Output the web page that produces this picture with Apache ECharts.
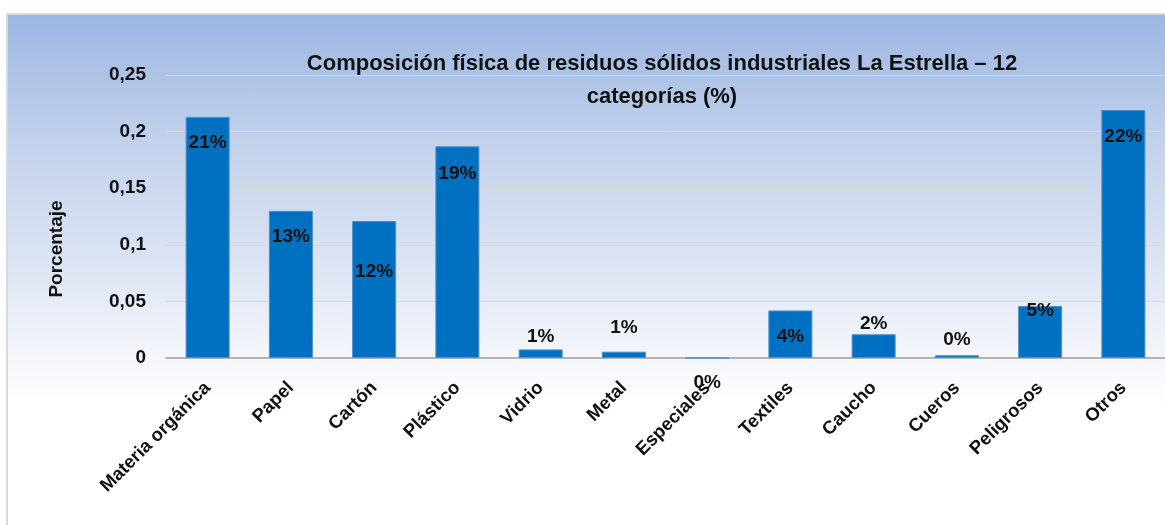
<!DOCTYPE html>
<html>
<head>
<meta charset="utf-8">
<script src="https://cdn.jsdelivr.net/npm/echarts@6/dist/echarts.min.js"></script>
<style>
  html, body { margin: 0; padding: 0; background: #ffffff; }
  #frame {
    position: absolute; left: 6px; top: 13px; width: 1170px; height: 530px;
    border: 2px solid #d9d9d9; box-sizing: border-box;
    background: linear-gradient(to bottom, #9db6e2 0px, #c3d2ec 130px, #dfe6f4 260px, #f4f6fb 340px, #ffffff 390px);
  }
  #chart { position: absolute; left: 0; top: 0; width: 1165px; height: 525px; }
</style>
</head>
<body>
<div id="frame"></div>
<div id="chart"></div>
<script>
// Composición física de residuos sólidos industriales (fracción por categoría)
const categories = ['Materia orgánica', 'Papel', 'Cartón', 'Plástico', 'Vidrio', 'Metal',
  'Especiales', 'Textiles', 'Caucho', 'Cueros', 'Peligrosos', 'Otros'];
const fractions = [0.213, 0.130, 0.121, 0.187, 0.0076, 0.0056, 0, 0.042, 0.021, 0.0024, 0.046, 0.219];
const yTicks = [0, 0.05, 0.1, 0.15, 0.2, 0.25];

// vertical placement of each value label, measured from the top of its bar
const labelDy = [26, 26, 51, 27, -13, -24, 25, 26, -10, -16, 5, 27];

const FONT = '"Liberation Sans Narrow", "Arial Narrow", "Liberation Sans", Arial, sans-serif';
const fmtTick = v => String(v).replace('.', ',');

const chart = echarts.init(document.getElementById('chart'), null, { renderer: 'canvas' });
chart.setOption({
  backgroundColor: 'transparent',
  animation: false,
  title: {
    text: 'Composición física de residuos sólidos industriales La Estrella – 12\ncategorías (%)',
    left: 657, top: 42, textAlign: 'center',
    textStyle: { fontFamily: FONT, fontWeight: 'bold', fontSize: 22, color: '#111', lineHeight: 33 }
  },
  graphic: [{
    type: 'text', x: 57, y: 249, rotation: Math.PI / 2,
    style: {
      text: 'Porcentaje', align: 'center', verticalAlign: 'middle',
      font: 'bold 19px ' + FONT, fill: '#111'
    }
  }],
  grid: { left: 166, top: 75, width: 1012, height: 283 },
  xAxis: {
    type: 'category',
    data: categories,
    axisLine: { lineStyle: { color: '#b3b3b3', width: 2 } },
    axisTick: { show: false },
    axisLabel: {
      interval: 0, rotate: 45, margin: 27,
      fontFamily: FONT, fontWeight: 'bold', fontSize: 18.5, color: '#111'
    }
  },
  yAxis: {
    type: 'value',
    min: yTicks[0], max: yTicks[yTicks.length - 1], interval: 0.05,
    axisLine: { show: false },
    axisTick: { show: false },
    splitLine: { lineStyle: { color: '#d9d9d9', width: 1 } },
    axisLabel: {
      margin: 20, formatter: v => fmtTick(+v.toFixed(2)),
      fontFamily: FONT, fontWeight: 'bold', fontSize: 19, color: '#111'
    }
  },
  series: [{
    type: 'bar',
    barWidth: 44,
    data: fractions.map((v, i) => ({
      value: v,
      label: { position: ['50%', labelDy[i]] }
    })),
    itemStyle: { color: '#0070c0', borderColor: '#4d8fcc', borderWidth: 1 },
    label: {
      show: true, align: 'center', verticalAlign: 'middle',
      formatter: p => Math.round(p.value * 100) + '%',
      fontFamily: FONT, fontWeight: 'bold', fontSize: 19, color: '#111'
    }
  }]
});
</script>
</body>
</html>
